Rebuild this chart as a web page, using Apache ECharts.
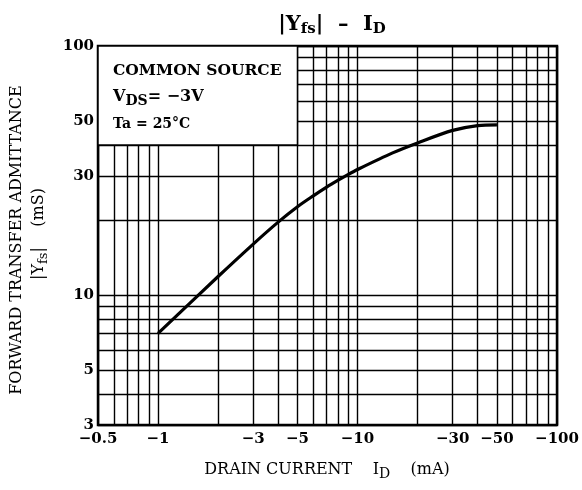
<!DOCTYPE html>
<html>
<head>
<meta charset="utf-8">
<script src="https://cdn.jsdelivr.net/npm/echarts@6/dist/echarts.min.js"></script>
<style>
  html, body { margin: 0; padding: 0; background: #fff; }
  #chart { width: 582px; height: 490px; }
</style>
</head>
<body>
<div id="chart"></div>
<script>
// |Yfs| - ID, common source
const drainCurrent = [1, 2, 3, 4, 5, 6, 7, 8, 9, 10, 15, 20, 30, 40, 50];
const admittance = [7.0, 11.85, 16.0, 19.6, 22.6, 25.0, 27.1, 28.9, 30.5, 31.9, 37.2, 40.8, 45.8, 47.9, 48.2];

const xLabelValues = [0.5, 1, 3, 5, 10, 30, 50, 100];
const yLabelValues = [3, 5, 10, 30, 50, 100];
const xGridValues = [0.5, 0.6, 0.7, 0.8, 0.9, 1, 2, 3, 4, 5, 6, 7, 8, 9, 10, 20, 30, 40, 50, 60, 70, 80, 90, 100];
const yGridValues = [3, 4, 5, 6, 7, 8, 9, 10, 20, 30, 40, 50, 60, 70, 80, 90, 100];

// condition box corners (data units)
const boxFrom = [0.5, 40];
const boxTo = [5, 100];

const serif = '"DejaVu Serif", "Liberation Serif", serif';

const chart = echarts.init(document.getElementById('chart'));

const option = {
  backgroundColor: '#fff',
  animation: false,
  title: {
    text: '|Y{s|fs}|  \u2013  I{s|D}',
    left: 327,
    top: 7,
    textAlign: 'center',
    textStyle: {
      fontFamily: serif,
      fontSize: 21,
      fontWeight: 'bold',
      color: '#000',
      rich: {
        s: { fontFamily: serif, fontSize: 15, fontWeight: 'bold', color: '#000', padding: [10, 0, 0, 0] }
      }
    }
  },
  grid: {
    left: 98, right: 25, top: 46, bottom: 65,
    show: true,
    borderColor: '#000',
    borderWidth: 2.5,
    backgroundColor: '#fff'
  },
  xAxis: {
    type: 'log',
    logBase: 10,
    min: 0.5,
    max: 100,
    axisLine: { show: false },
    axisTick: { show: false, customValues: xGridValues },
    splitLine: { show: true, lineStyle: { color: '#000', width: 1.4 } },
    axisLabel: {
      customValues: xLabelValues,
      formatter: v => '\u2212' + v,
      fontFamily: serif,
      fontSize: 15,
      fontWeight: 'bold',
      color: '#000',
      margin: 7
    }
  },
  yAxis: {
    type: 'log',
    logBase: 10,
    min: 3,
    max: 100,
    axisLine: { show: false },
    axisTick: { show: false, customValues: yGridValues },
    splitLine: { show: true, lineStyle: { color: '#000', width: 1.4 } },
    axisLabel: {
      customValues: yLabelValues,
      fontFamily: serif,
      fontSize: 15,
      fontWeight: 'bold',
      color: '#000',
      margin: 4
    }
  },
  graphic: [
    {
      type: 'text', left: 113, top: 63, z: 100,
      style: { text: 'COMMON SOURCE', font: 'bold 15.5px ' + serif, fill: '#000' }
    },
    {
      type: 'text', left: 113, top: 89, z: 100,
      style: {
        text: 'V{s|DS}= \u22123V',
        font: 'bold 16px ' + serif, fill: '#000',
        rich: { s: { font: 'bold 14px ' + serif, fill: '#000', padding: [8, 0, 0, 0] } }
      }
    },
    {
      type: 'text', left: 113, top: 117, z: 100,
      style: { text: 'Ta = 25\u00b0C', font: 'bold 14px ' + serif, fill: '#000' }
    },
    {
      type: 'text', x: 327, y: 470, z: 100,
      style: {
        text: 'DRAIN CURRENT    I{s|D}    (mA)',
        font: '16px ' + serif, fill: '#000', align: 'center', verticalAlign: 'middle',
        rich: { s: { font: '14px ' + serif, fill: '#000', padding: [9, 0, 0, 0] } }
      }
    },
    {
      type: 'text', x: 17, y: 240, rotation: Math.PI / 2, z: 100,
      style: {
        text: 'FORWARD TRANSFER ADMITTANCE',
        font: '16px ' + serif, fill: '#000', align: 'center', verticalAlign: 'middle'
      }
    },
    {
      type: 'text', x: 39, y: 234, rotation: Math.PI / 2, z: 100,
      style: {
        text: '|Y{s|fs}|    (mS)',
        font: '16px ' + serif, fill: '#000', align: 'center', verticalAlign: 'middle',
        rich: { s: { font: '13px ' + serif, fill: '#000', padding: [9, 0, 0, 0] } }
      }
    }
  ],
  series: [
    {
      type: 'line',
      data: drainCurrent.map((x, i) => [x, admittance[i]]),
      smooth: 0.3,
      showSymbol: false,
      lineStyle: { color: '#000', width: 3.2 },
      z: 5,
      markArea: {
        silent: true,
        itemStyle: { color: '#fff', borderColor: '#000', borderWidth: 1.5 },
        data: [[{ coord: boxFrom }, { coord: boxTo }]]
      }
    }
  ]
};

chart.setOption(option);
</script>
</body>
</html>
